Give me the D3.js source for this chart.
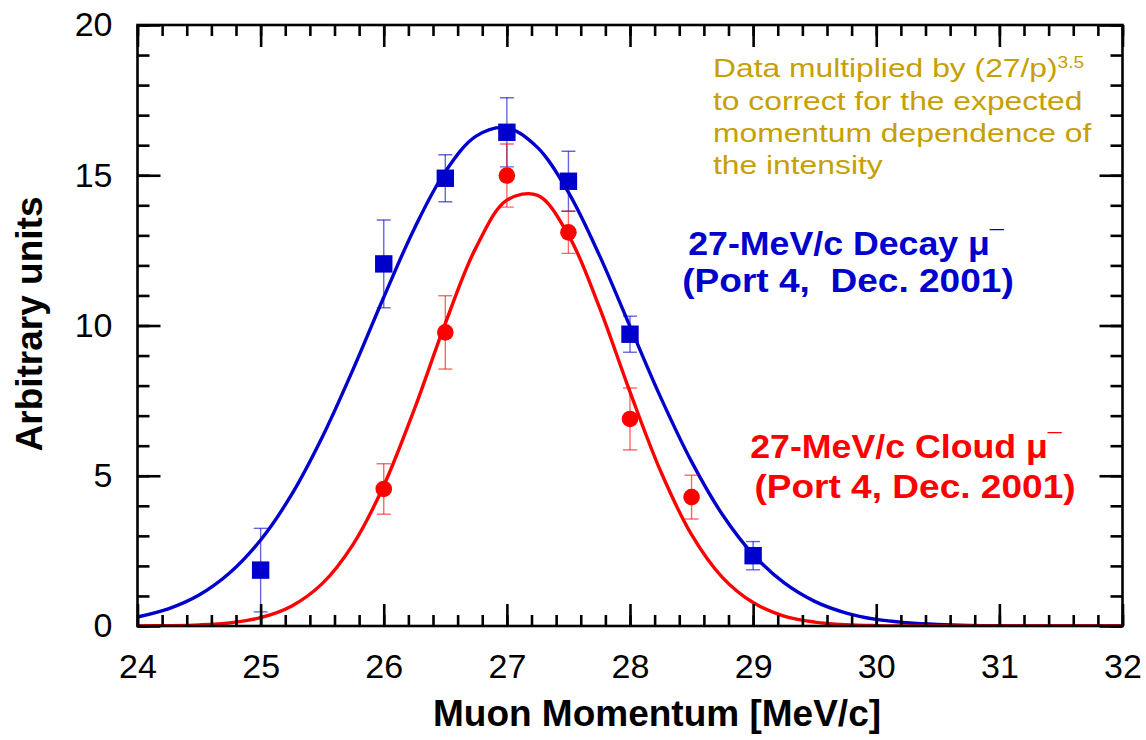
<!DOCTYPE html>
<html>
<head>
<meta charset="utf-8">
<script src="https://cdn.jsdelivr.net/npm/d3@7"></script>
<style>
  html, body { margin: 0; padding: 0; background: #fff; }
  svg { display: block; font-family: "Liberation Sans", Arial, sans-serif; }
</style>
</head>
<body>
<svg id="chart" width="1146" height="740"></svg>
<script>
// Measured momentum scans (corrected intensities), with statistical errors
const decayP    = [25, 26, 26.5, 27, 27.5, 28, 29];
const decayI    = [1.86, 12.05, 14.9, 16.43, 14.8, 9.71, 2.34];
const decayErr  = [1.39, 1.46, 0.78, 1.15, 1.0, 0.6, 0.47];

const cloudP    = [26, 26.5, 27, 27.5, 28, 28.5];
const cloudI    = [4.56, 9.77, 14.99, 13.1, 6.89, 4.29];
const cloudErr  = [0.84, 1.22, 1.05, 0.7, 1.03, 0.73];

// Fitted curves, sampled every 0.25 MeV/c
const fitP = [24, 24.25, 24.5, 24.75, 25, 25.25, 25.5, 25.75, 26, 26.25, 26.5, 26.75,
              27, 27.25, 27.5, 27.75, 28, 28.25, 28.5, 28.75, 29, 29.25, 29.5, 29.75,
              30, 30.25, 30.5, 30.75, 31, 31.25, 31.5, 31.75, 32];
const decayFit = [0.30, 0.57, 1.03, 1.77, 2.86, 4.36, 6.28, 8.53, 10.94, 13.24, 15.12, 16.30,
                  16.58, 15.92, 14.43, 12.35, 9.97, 7.60, 5.47, 3.71, 2.38, 1.44, 0.82, 0.44,
                  0.22, 0.11, 0.05, 0.02, 0.01, 0, 0, 0, 0];
const cloudFit = [0.003, 0.011, 0.036, 0.105, 0.28, 0.66, 1.41, 2.71, 4.67, 7.23, 10.07, 12.60,
                  14.17, 14.33, 13.01, 10.62, 7.79, 5.14, 3.04, 1.62, 0.78, 0.33, 0.13, 0.045,
                  0.014, 0.004, 0.001, 0, 0, 0, 0, 0, 0];

// Axis ticks
const xMajor = [24, 25, 26, 27, 28, 29, 30, 31, 32];
const yMajor = [0, 5, 10, 15, 20];
const xMinorStep = 0.2;
const yMinorStep = 1;

const W = 1146, H = 740;
const m = { left: 137.5, right: 23.5, top: 25, bottom: 114 };
const svg = d3.select("#chart");

const x = d3.scaleLinear().domain([24, 32]).range([m.left, W - m.right]);
const y = d3.scaleLinear().domain([0, 20]).range([H - m.bottom, m.top]);

const xMinor = d3.range(24, 32.0001, xMinorStep).map(v => +v.toFixed(2));
const yMinor = d3.range(0, 20.0001, yMinorStep);

const C_BLUE = "#0000cc", C_RED = "#ff0000", C_GOLD = "#c6a000";

// clip for plot contents
svg.append("defs").append("clipPath").attr("id", "plotClip")
  .append("rect").attr("x", m.left).attr("y", m.top)
  .attr("width", W - m.left - m.right).attr("height", H - m.top - m.bottom);

const plot = svg.append("g").attr("clip-path", "url(#plotClip)");

// fitted curves
const line = d3.line().x(d => x(d[0])).y(d => y(d[1])).curve(d3.curveCatmullRom.alpha(0.5));
plot.append("path").datum(fitP.map((p, i) => [p, decayFit[i]]))
  .attr("d", line).attr("fill", "none").attr("stroke", C_BLUE).attr("stroke-width", 3.4);
plot.append("path").datum(fitP.map((p, i) => [p, cloudFit[i]]))
  .attr("d", line).attr("fill", "none").attr("stroke", C_RED).attr("stroke-width", 3.4);

// error bars
function errorBars(ps, vs, es, color) {
  const g = plot.append("g").attr("stroke", color).attr("stroke-width", 1.4)
    .attr("stroke-opacity", 0.6).attr("fill", "none");
  ps.forEach((p, i) => {
    const cx = x(p), y0 = y(vs[i] - es[i]), y1 = y(vs[i] + es[i]);
    g.append("line").attr("x1", cx).attr("x2", cx).attr("y1", y0).attr("y2", y1);
    g.append("line").attr("x1", cx - 7).attr("x2", cx + 7).attr("y1", y0).attr("y2", y0);
    g.append("line").attr("x1", cx - 7).attr("x2", cx + 7).attr("y1", y1).attr("y2", y1);
  });
}
errorBars(decayP, decayI, decayErr, C_BLUE);
errorBars(cloudP, cloudI, cloudErr, C_RED);

// markers
plot.append("g").selectAll("rect").data(decayP.map((p, i) => [p, decayI[i]])).join("rect")
  .attr("x", d => x(d[0]) - 8.7).attr("y", d => y(d[1]) - 8.7)
  .attr("width", 17.4).attr("height", 17.4).attr("fill", C_BLUE);
plot.append("g").selectAll("circle").data(cloudP.map((p, i) => [p, cloudI[i]])).join("circle")
  .attr("cx", d => x(d[0])).attr("cy", d => y(d[1])).attr("r", 8.3).attr("fill", C_RED);

// axes: ticks point inward on all four sides
const axW = 2.6;
function styleAxis(g) {
  g.select(".domain").remove();
  g.selectAll(".tick line").attr("stroke", "#000").attr("stroke-width", axW);
}
const bottomY = H - m.bottom, topY = m.top, leftX = m.left, rightX = W - m.right;

// minor ticks
svg.append("g").attr("transform", `translate(0,${bottomY})`)
  .call(d3.axisBottom(x).tickValues(xMinor).tickSize(-11).tickFormat(""))
  .call(styleAxis);
svg.append("g").attr("transform", `translate(0,${topY})`)
  .call(d3.axisTop(x).tickValues(xMinor).tickSize(-11).tickFormat(""))
  .call(styleAxis);
svg.append("g").attr("transform", `translate(${leftX},0)`)
  .call(d3.axisLeft(y).tickValues(yMinor).tickSize(-12).tickFormat(""))
  .call(styleAxis);
svg.append("g").attr("transform", `translate(${rightX},0)`)
  .call(d3.axisRight(y).tickValues(yMinor).tickSize(-12).tickFormat(""))
  .call(styleAxis);

// major ticks with labels
const gxb = svg.append("g").attr("transform", `translate(0,${bottomY})`)
  .call(d3.axisBottom(x).tickValues(xMajor).tickSize(-22).tickPadding(28).tickFormat(d3.format("d")))
  .call(styleAxis);
gxb.selectAll(".tick text").attr("font-size", 34).attr("fill", "#000")
  .attr("font-family", "Liberation Sans, Arial, sans-serif");
svg.append("g").attr("transform", `translate(0,${topY})`)
  .call(d3.axisTop(x).tickValues(xMajor).tickSize(-22).tickFormat(""))
  .call(styleAxis);
const gyl = svg.append("g").attr("transform", `translate(${leftX},0)`)
  .call(d3.axisLeft(y).tickValues(yMajor).tickSize(-23).tickPadding(25).tickFormat(d3.format("d")))
  .call(styleAxis);
gyl.selectAll(".tick text").attr("font-size", 34).attr("fill", "#000")
  .attr("font-family", "Liberation Sans, Arial, sans-serif");
svg.append("g").attr("transform", `translate(${rightX},0)`)
  .call(d3.axisRight(y).tickValues(yMajor).tickSize(-23).tickFormat(""))
  .call(styleAxis);

// frame
svg.append("rect").attr("x", leftX).attr("y", topY)
  .attr("width", rightX - leftX).attr("height", bottomY - topY)
  .attr("fill", "none").attr("stroke", "#000").attr("stroke-width", axW);

// axis titles
svg.append("text").attr("x", 657).attr("y", 726).attr("text-anchor", "middle")
  .attr("font-size", 37).attr("font-weight", "bold").text("Muon Momentum [MeV/c]");
svg.append("text").attr("transform", "translate(42,324) rotate(-90)").attr("text-anchor", "middle")
  .attr("font-size", 37).attr("font-weight", "bold").text("Arbitrary units");

// annotation about the momentum correction (slightly widened lettering)
const note = svg.append("g").attr("fill", C_GOLD).attr("font-size", 26.5);
function noteLine(yy) {
  return note.append("text").attr("transform", `translate(713,${yy}) scale(1.2,1)`);
}
const n1 = noteLine(77);
n1.append("tspan").text("Data multiplied by (27/p)");
n1.append("tspan").attr("font-size", 16).attr("dy", -9).text("3.5");
noteLine(110).text("to correct for the expected");
noteLine(142).text("momentum dependence of");
noteLine(174).text("the intensity");

// series labels; the negative-charge sign is a small raised bar after μ
function seriesLabel(cx1, y1, cx2, y2, l1, l2, color) {
  const g = svg.append("g").attr("fill", color).attr("font-size", 34)
    .attr("font-weight", "bold").attr("text-anchor", "middle");
  const t1 = g.append("text").attr("transform", `translate(${cx1},${y1}) scale(1.05,1)`);
  t1.append("tspan").text(l1 + " \u03bc");
  t1.append("tspan").attr("font-size", 24).attr("dy", -8).text("\u00af");
  g.append("text").attr("transform", `translate(${cx2},${y2}) scale(1.09,1)`).text(l2);
}
seriesLabel(846, 255, 848, 292, "27-MeV/c Decay", "(Port 4,\u00a0 Dec. 2001)", C_BLUE);
seriesLabel(906, 458, 915, 498, "27-MeV/c Cloud", "(Port 4, Dec. 2001)", C_RED);
</script>
</body>
</html>
